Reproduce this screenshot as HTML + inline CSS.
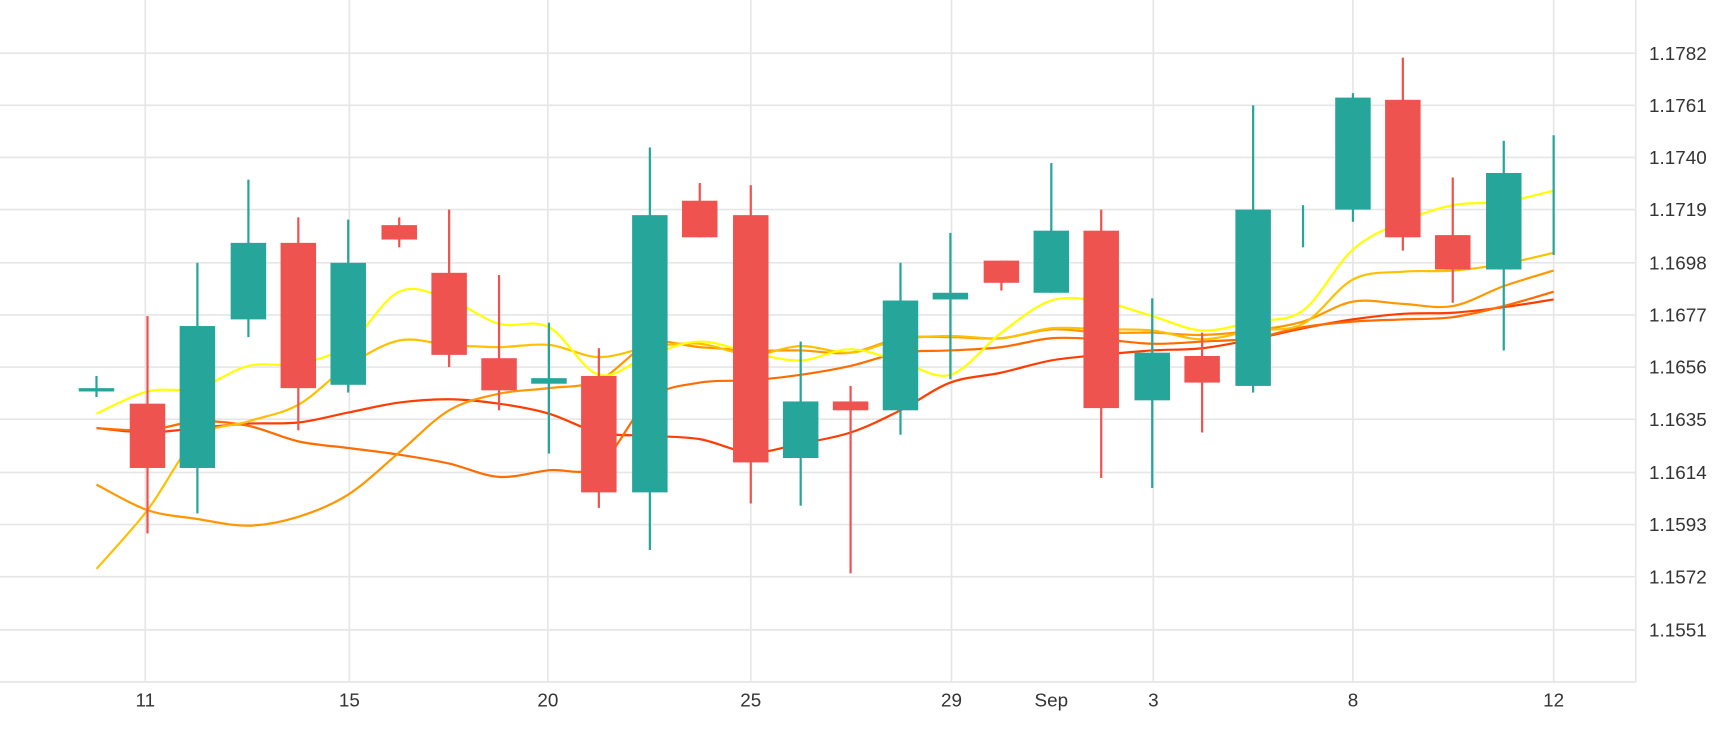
<!DOCTYPE html>
<html><head><meta charset="utf-8"><style>
html,body{margin:0;padding:0;background:#fff;width:1730px;height:730px;overflow:hidden}
text{font-family:"Liberation Sans","DejaVu Sans",sans-serif;fill:#333}
</style></head><body>
<svg id="s" width="1730" height="730" viewBox="0 0 1560 658.27" xmlns="http://www.w3.org/2000/svg">
<g id="grid" stroke="#e6e6e6" stroke-width="1.5" fill="none"></g>
<g id="lines" fill="none" stroke-width="2"></g>
<g id="candles"></g>
<g id="labels" font-size="17"></g>
</svg>
<script>
const NS="http://www.w3.org/2000/svg";
function el(p,t,a,txt){const e=document.createElementNS(NS,t);for(const k in a)e.setAttribute(k,a[k]);if(txt!==undefined)e.textContent=txt;document.getElementById(p).appendChild(e);return e;}
const ys=[48,95,142,189,237,284,331,378,426,473,520,568];
const lab=["1.1782","1.1761","1.1740","1.1719","1.1698","1.1677","1.1656","1.1635","1.1614","1.1593","1.1572","1.1551"];
ys.forEach((y,i)=>{el("grid","line",{x1:0,x2:1475,y1:y,y2:y});el("labels","text",{x:1487,y:y+6},lab[i]);});
const xt=[[131,"11"],[315,"15"],[494,"20"],[677,"25"],[858,"29"],[948,"Sep"],[1040,"3"],[1220,"8"],[1401,"12"]];
xt.forEach(([x,t])=>{if(t!=="Sep")el("grid","line",{x1:x,x2:x,y1:0,y2:615});el("labels","text",{x:x,y:637,"text-anchor":"middle"},t);});
el("grid","line",{x1:0,x2:1475,y1:615,y2:615});
el("grid","line",{x1:1475,x2:1475,y1:0,y2:615});
const T="#26a69a",R="#ef5350";
const C=[
[87,T,339,358,350,352],[133,R,285,481,364,422],[178,T,237,463,294,422],[224,T,162,304,219,288],
[269,R,196,388,219,350],[314,T,198,354,237,347],[360,R,196,223,203,216],[405,R,189,331,246,320],
[450,R,248,370,323,352],[495,T,291,409,341,346],[540,R,314,458,339,444],[586,T,133,496,194,444],
[631,R,165,214,181,214],[677,R,167,454,194,417],[722,T,308,456,362,413],[767,R,348,517,362,370],
[812,T,237,392,271,370],[857,T,210,342,264,270],[903,R,235,262,235,255],[948,T,147,264,208,264],
[993,R,189,431,208,368],[1039,T,269,440,318,361],[1084,R,300,390,321,345],[1130,T,95,354,189,348],
[1175,T,185,223,203,205],[1220,T,84,200,88,189],[1265,R,52,226,90,214],[1310,R,160,273,212,243],
[1356,T,127,316,156,243],[1401,T,122,230,229,231]];
C.forEach(([x,c,h,l,t,b],i)=>{
 el("candles","rect",{x:x-1,y:h,width:2,height:l-h,fill:c});
 if(i===24||i===29)return;
 el("candles","rect",{x:x-16,y:t,width:32,height:Math.max(b-t,3),fill:c});
});
const X=[87,133,178,224,269,314,360,405,450,495,540,586,631,677,722,767,812,857,903,948,993,1039,1084,1130,1175,1220,1265,1310,1356,1401];
const L=[
["#ff3d00",[386,390,386,382,381,372,363,360,364,373,390,393,396,408,400,390,370,345,336,325,320,316,314,306,296,288,283,282,277,270]],
["#ff6d00",[386,388,380,384,398,404,410,418,430,424,420,360,345,343,338,330,318,316,313,305,306,310,308,305,295,290,288,286,276,263]],
["#ff9800",[437,460,468,474,466,446,408,370,355,350,343,310,313,316,316,318,305,304,305,297,300,300,302,298,290,272,274,276,258,244]],
["#ffc000",[513,460,395,380,365,330,307,311,313,311,322,313,310,320,312,318,306,303,305,296,297,298,306,298,292,252,245,244,238,228]],
["#ffff00",[373,353,350,330,328,311,263,270,292,295,338,320,308,318,325,315,326,338,300,271,272,285,298,290,280,225,200,185,182,172]]];
L.forEach(([col,Y])=>{
 let d="M"+X[0]+","+Y[0];
 for(let i=0;i<X.length-1;i++){
  const p0=[X[Math.max(i-1,0)],Y[Math.max(i-1,0)]],p1=[X[i],Y[i]],p2=[X[i+1],Y[i+1]],p3=[X[Math.min(i+2,X.length-1)],Y[Math.min(i+2,X.length-1)]];
  const c1=[p1[0]+(p2[0]-p0[0])/6,p1[1]+(p2[1]-p0[1])/6],c2=[p2[0]-(p3[0]-p1[0])/6,p2[1]-(p3[1]-p1[1])/6];
  d+=` C${c1[0]},${c1[1]} ${c2[0]},${c2[1]} ${p2[0]},${p2[1]}`;
 }
 el("lines","path",{d:d,stroke:col});
});
</script>
</body></html>
